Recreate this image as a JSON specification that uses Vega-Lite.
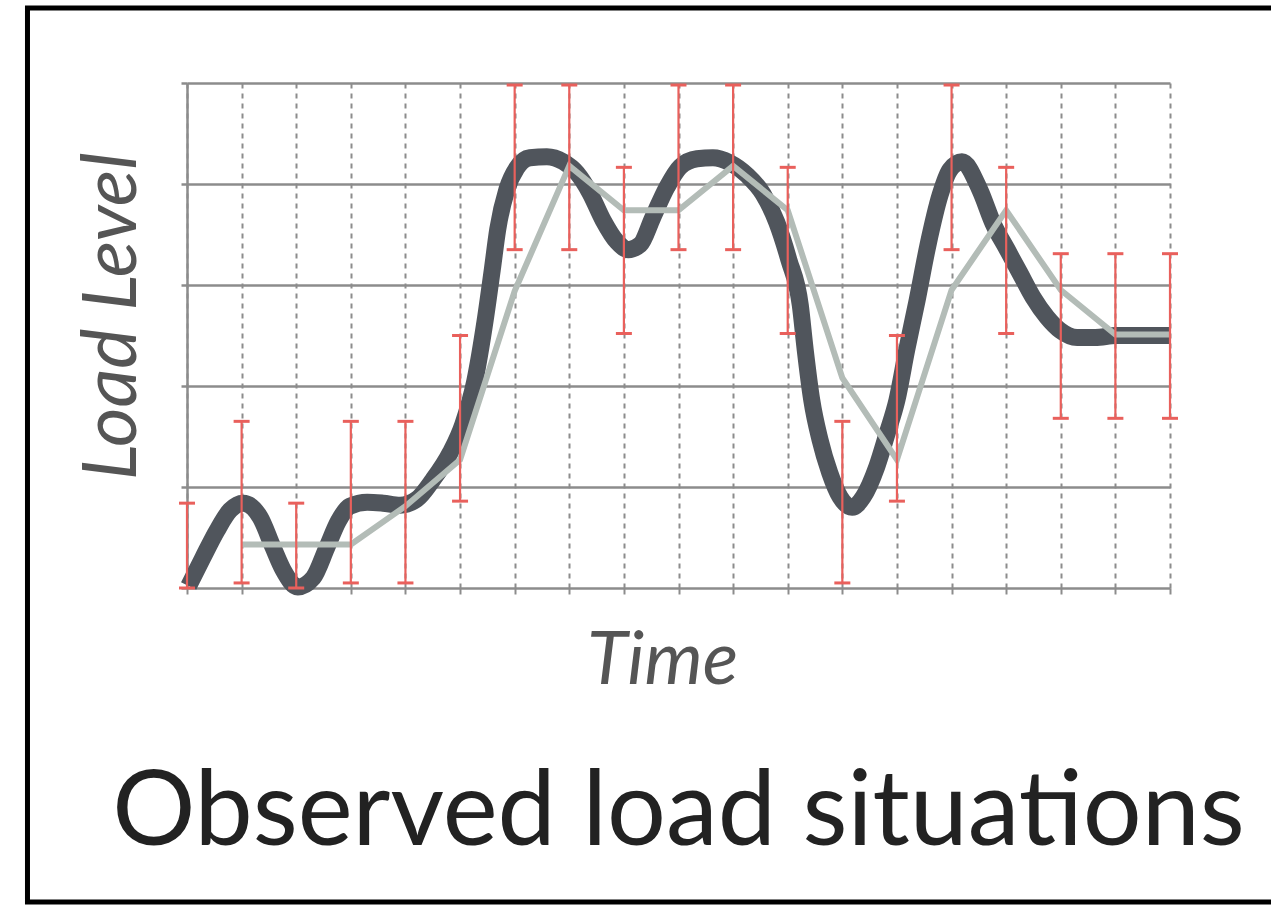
{
  "$schema": "https://vega.github.io/schema/vega-lite/v6.json",
  "width": 983,
  "height": 505,
  "autosize": {"type": "none"},
  "padding": {"left": 187, "top": 83, "right": 101, "bottom": 317},
  "background": "#ffffff",
  "config": {"view": {"stroke": null}},
  "title": {
    "text": "Observed load situations",
    "orient": "bottom",
    "anchor": "middle",
    "font": "Lato",
    "fontSize": 104,
    "fontWeight": "normal",
    "color": "#222222",
    "baseline": "alphabetic",
    "offset": -60
  },
  "datasets": {
    "curve": [
      {"t": 0.03, "v": 0.02}, {"t": 0.29, "v": 0.30}, {"t": 0.55, "v": 0.57}, {"t": 0.79, "v": 0.77},
      {"t": 1.03, "v": 0.84}, {"t": 1.34, "v": 0.70}, {"t": 1.57, "v": 0.41}, {"t": 1.76, "v": 0.18},
      {"t": 2.03, "v": 0.01}, {"t": 2.31, "v": 0.10}, {"t": 2.56, "v": 0.40}, {"t": 2.77, "v": 0.66},
      {"t": 2.98, "v": 0.81}, {"t": 3.30, "v": 0.85}, {"t": 3.59, "v": 0.84}, {"t": 3.90, "v": 0.82},
      {"t": 4.21, "v": 0.88}, {"t": 4.50, "v": 1.07}, {"t": 4.82, "v": 1.34}, {"t": 5.05, "v": 1.62},
      {"t": 5.27, "v": 2.05}, {"t": 5.46, "v": 2.65}, {"t": 5.59, "v": 3.15}, {"t": 5.69, "v": 3.55},
      {"t": 5.86, "v": 3.95}, {"t": 6.04, "v": 4.16}, {"t": 6.28, "v": 4.26}, {"t": 6.59, "v": 4.27},
      {"t": 6.89, "v": 4.22}, {"t": 7.14, "v": 4.11}, {"t": 7.38, "v": 3.91}, {"t": 7.62, "v": 3.64},
      {"t": 7.87, "v": 3.43}, {"t": 8.08, "v": 3.35}, {"t": 8.30, "v": 3.40}, {"t": 8.53, "v": 3.67},
      {"t": 8.79, "v": 3.97}, {"t": 9.03, "v": 4.17}, {"t": 9.34, "v": 4.25}, {"t": 9.63, "v": 4.26},
      {"t": 9.94, "v": 4.21}, {"t": 10.25, "v": 4.09}, {"t": 10.55, "v": 3.90}, {"t": 10.80, "v": 3.62},
      {"t": 11.02, "v": 3.25}, {"t": 11.23, "v": 2.80}, {"t": 11.32, "v": 2.36}, {"t": 11.44, "v": 1.86},
      {"t": 11.59, "v": 1.47}, {"t": 11.77, "v": 1.14}, {"t": 11.96, "v": 0.90}, {"t": 12.18, "v": 0.80},
      {"t": 12.38, "v": 0.90}, {"t": 12.63, "v": 1.20}, {"t": 12.82, "v": 1.53}, {"t": 13.00, "v": 1.86},
      {"t": 13.18, "v": 2.36}, {"t": 13.37, "v": 2.85}, {"t": 13.57, "v": 3.40}, {"t": 13.79, "v": 3.89},
      {"t": 13.97, "v": 4.14}, {"t": 14.19, "v": 4.22}, {"t": 14.52, "v": 3.94}, {"t": 14.76, "v": 3.61},
      {"t": 15.02, "v": 3.35}, {"t": 15.25, "v": 3.12}, {"t": 15.49, "v": 2.88}, {"t": 15.75, "v": 2.68},
      {"t": 15.99, "v": 2.55}, {"t": 16.30, "v": 2.48}, {"t": 16.63, "v": 2.48}, {"t": 17.01, "v": 2.50},
      {"t": 18.00, "v": 2.50}
    ],
    "obs": [
      {"t": 0, "lo": 0.00, "hi": 0.84, "mean": null},
      {"t": 1, "lo": 0.05, "hi": 1.65, "mean": 0.43},
      {"t": 2, "lo": 0.00, "hi": 0.84, "mean": 0.43},
      {"t": 3, "lo": 0.05, "hi": 1.65, "mean": 0.43},
      {"t": 4, "lo": 0.05, "hi": 1.65, "mean": 0.81},
      {"t": 5, "lo": 0.86, "hi": 2.50, "mean": 1.27},
      {"t": 6, "lo": 3.35, "hi": 4.98, "mean": 2.94},
      {"t": 7, "lo": 3.35, "hi": 4.98, "mean": 4.18},
      {"t": 8, "lo": 2.52, "hi": 4.165, "mean": 3.74},
      {"t": 9, "lo": 3.35, "hi": 4.98, "mean": 3.74},
      {"t": 10, "lo": 3.35, "hi": 4.98, "mean": 4.18},
      {"t": 11, "lo": 2.52, "hi": 4.165, "mean": 3.74},
      {"t": 12, "lo": 0.05, "hi": 1.65, "mean": 2.08},
      {"t": 13, "lo": 0.86, "hi": 2.50, "mean": 1.27},
      {"t": 14, "lo": 3.35, "hi": 4.98, "mean": 2.95},
      {"t": 15, "lo": 2.52, "hi": 4.165, "mean": 3.74},
      {"t": 16, "lo": 1.68, "hi": 3.31, "mean": 2.95},
      {"t": 17, "lo": 1.68, "hi": 3.31, "mean": 2.51},
      {"t": 18, "lo": 1.68, "hi": 3.31, "mean": 2.51}
    ]
  },
  "layer": [
    {
      "data": {"name": "curve"},
      "mark": {"type": "line", "interpolate": "monotone", "color": "#50555c", "strokeWidth": 17, "strokeCap": "butt", "strokeJoin": "round"},
      "encoding": {
        "x": {
          "field": "t", "type": "quantitative", "title": "Time",
          "scale": {"domain": [0, 18], "nice": false, "zero": false},
          "axis": {
            "values": [0,1,2,3,4,5,6,7,8,9,10,11,12,13,14,15,16,17,18],
            "grid": true, "gridColor": "#8c8c8c", "gridDash": [5, 5], "gridWidth": 2,
            "domain": false, "ticks": true, "tickSize": 6, "tickColor": "#8c8c8c", "tickWidth": 2,
            "labels": false,
            "title": "Time", "titleFont": "Lato", "titleFontSize": 74, "titleFontStyle": "italic",
            "titleFontWeight": "normal", "titleColor": "#555555",
            "titleX": 475, "titleY": 95, "titleBaseline": "alphabetic", "titleAlign": "center"
          }
        },
        "y": {
          "field": "v", "type": "quantitative", "title": "Load Level",
          "scale": {"domain": [0, 5], "nice": false, "zero": false},
          "axis": {
            "values": [0,1,2,3,4,5],
            "grid": true, "gridColor": "#8c8c8c", "gridWidth": 2.5,
            "domain": true, "domainColor": "#8c8c8c", "domainWidth": 2.5,
            "ticks": true, "tickSize": 6, "tickColor": "#8c8c8c", "tickWidth": 2.5,
            "labels": false,
            "title": "Load Level", "titleFont": "Lato", "titleFontSize": 76, "titleFontStyle": "italic",
            "titleFontWeight": "normal", "titleColor": "#555555",
            "titleX": -52, "titleY": 233, "titleAngle": 270, "titleBaseline": "alphabetic", "titleAlign": "center"
          }
        }
      }
    },
    {
      "data": {"name": "obs"},
      "mark": {"type": "line", "color": "#b3bcb7", "strokeWidth": 6, "strokeCap": "butt"},
      "encoding": {
        "x": {"field": "t", "type": "quantitative", "title": "Time"},
        "y": {"field": "mean", "type": "quantitative", "title": "Load Level"}
      }
    },
    {
      "data": {"name": "obs"},
      "mark": {"type": "rule", "color": "#e9605c", "strokeWidth": 2.2},
      "encoding": {
        "x": {"field": "t", "type": "quantitative", "title": "Time"},
        "y": {"field": "lo", "type": "quantitative", "title": "Load Level"},
        "y2": {"field": "hi"}
      }
    },
    {
      "data": {"name": "obs"},
      "mark": {"type": "tick", "orient": "horizontal", "color": "#e9605c", "size": 16, "thickness": 3, "opacity": 1},
      "encoding": {
        "x": {"field": "t", "type": "quantitative", "title": "Time"},
        "y": {"field": "lo", "type": "quantitative", "title": "Load Level"}
      }
    },
    {
      "data": {"name": "obs"},
      "mark": {"type": "tick", "orient": "horizontal", "color": "#e9605c", "size": 16, "thickness": 3, "opacity": 1},
      "encoding": {
        "x": {"field": "t", "type": "quantitative", "title": "Time"},
        "y": {"field": "hi", "type": "quantitative", "title": "Load Level"}
      }
    },
    {
      "data": {"values": [{}]},
      "mark": {"type": "rect", "filled": false, "stroke": "#000000", "strokeWidth": 5, "clip": false},
      "encoding": {
        "x": {"datum": -2.921, "type": "quantitative", "title": "Time"},
        "x2": {"datum": 20.02},
        "y": {"datum": 5.743, "type": "quantitative", "title": "Load Level"},
        "y2": {"datum": -3.109}
      }
    }
  ]
}
